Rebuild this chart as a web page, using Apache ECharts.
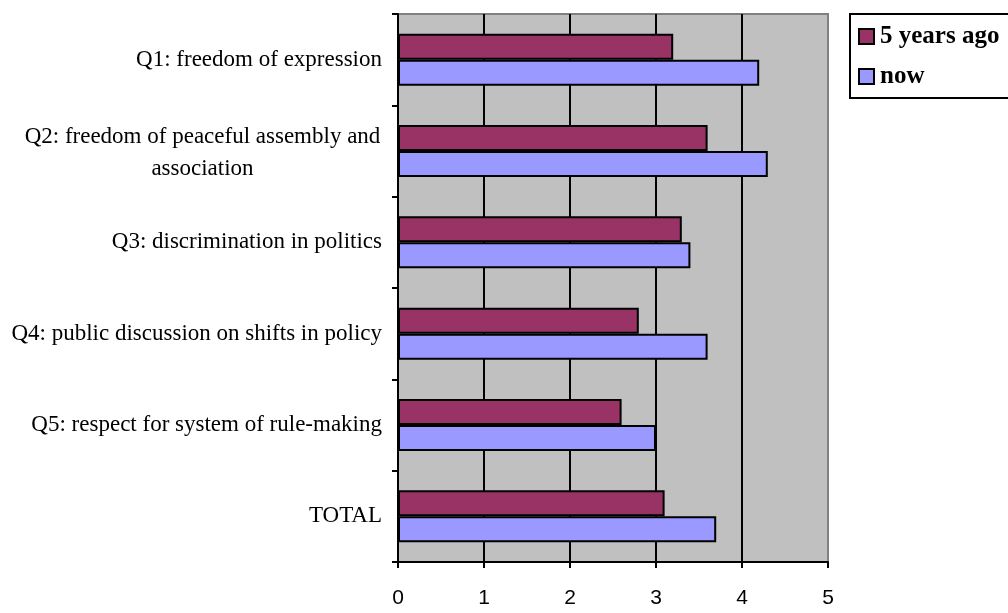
<!DOCTYPE html>
<html>
<head>
<meta charset="utf-8">
<script src="https://cdn.jsdelivr.net/npm/echarts@6/dist/echarts.min.js"></script>
<style>
  html, body { margin: 0; padding: 0; background: #fff; }
  #chart { width: 1008px; height: 613px; }
</style>
</head>
<body>
<div id="chart"></div>
<script>
var categories = [
  'Q1: freedom of expression',
  'Q2: freedom of peaceful assembly and\nassociation',
  'Q3: discrimination in politics',
  'Q4: public discussion on shifts in policy',
  'Q5: respect for system of rule-making',
  'TOTAL'
];
var fiveYearsAgo = [3.2, 3.6, 3.3, 2.8, 2.6, 3.1];
var now = [4.2, 4.3, 3.4, 3.6, 3.0, 3.7];
var xTicks = [0, 1, 2, 3, 4, 5];

var serif = '"Liberation Serif", "Times New Roman", serif';
var sans = '"Liberation Sans", Arial, sans-serif';

var myChart = echarts.init(document.getElementById('chart'));

var option = {
  animation: false,
  legend: {
    orient: 'vertical',
    left: 850,
    top: 14,
    padding: [10, 40, 9, 8],
    borderColor: '#000',
    borderWidth: 2,
    itemGap: 15,
    itemWidth: 15,
    itemHeight: 15,
    icon: 'rect',
    textStyle: { fontFamily: serif, fontWeight: 'bold', fontSize: 25, color: '#000', padding: [0, 0, 0, 1] },
    data: ['5 years ago', 'now']
  },
  grid: {
    left: 398,
    right: 180,
    top: 14,
    bottom: 51,
    show: true,
    backgroundColor: '#C0C0C0',
    borderColor: '#808080',
    borderWidth: 2
  },
  xAxis: {
    type: 'value',
    min: xTicks[0],
    max: xTicks[xTicks.length - 1],
    interval: 1,
    axisLine: { show: true, lineStyle: { color: '#000', width: 2 } },
    axisTick: { show: true, length: 6, lineStyle: { color: '#000', width: 2 } },
    splitLine: { show: true, showMinLine: false, showMaxLine: false, lineStyle: { color: '#000', width: 2 } },
    axisLabel: { fontFamily: sans, fontSize: 21, color: '#000', margin: 26 }
  },
  yAxis: {
    type: 'category',
    inverse: true,
    data: categories,
    axisLine: { show: true, lineStyle: { color: '#000', width: 2 } },
    axisTick: { show: true, length: 6, lineStyle: { color: '#000', width: 2 } },
    axisLabel: {
      fontFamily: serif,
      fontSize: 23,
      color: '#000',
      margin: 16,
      formatter: function (value) {
        var lines = value.split('\n');
        if (lines.length === 1) return value;
        return lines.map(function (l) { return '{c|' + l + '}'; }).join('\n');
      },
      rich: {
        c: { fontFamily: serif, fontSize: 23, color: '#000', width: 359, align: 'center', lineHeight: 32, padding: [4, 0, 0, 0] }
      }
    }
  },
  series: [
    {
      name: '5 years ago',
      type: 'bar',
      data: fiveYearsAgo,
      barGap: '0%',
      barCategoryGap: '43%',
      itemStyle: { color: '#993366', borderColor: '#000', borderWidth: 2 }
    },
    {
      name: 'now',
      type: 'bar',
      data: now,
      barGap: '0%',
      barCategoryGap: '43%',
      itemStyle: { color: '#9999FF', borderColor: '#000', borderWidth: 2 }
    }
  ]
};

myChart.setOption(option);
</script>
</body>
</html>
